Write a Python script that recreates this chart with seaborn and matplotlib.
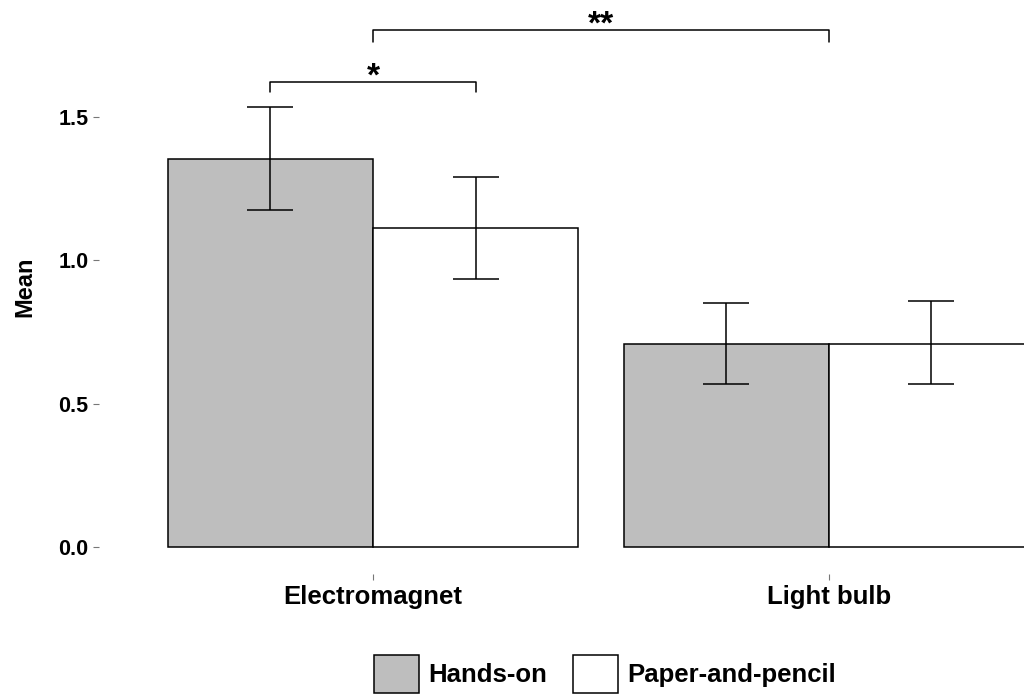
import numpy as np
import pandas as pd
import matplotlib
matplotlib.use("Agg")
from matplotlib import pyplot as plt
from matplotlib.patches import Patch
import seaborn as sns

# values
categories = ["Electromagnet", "Light bulb"]
groups = ["Hands-on", "Paper-and-pencil"]
mean_hands = [1.355, 0.708]
mean_paper = [1.113, 0.708]
low_hands = [1.175, 0.569]
low_paper = [0.935, 0.569]
high_hands = [1.535, 0.851]
high_paper = [1.290, 0.857]
group_colors = ["#BEBEBE", "#FFFFFF"]

sns.set_style("white")
plt.rcParams["font.family"] = ["Liberation Sans", "DejaVu Sans"]
plt.rcParams["font.weight"] = "bold"
plt.rcParams["text.color"] = "black"

df = pd.DataFrame({
    "Condition": categories * 2,
    "Group": [groups[0]] * 2 + [groups[1]] * 2,
    "Mean": mean_hands + mean_paper,
})
lows = [low_hands, low_paper]
highs = [high_hands, high_paper]

fig = plt.figure(figsize=(10.24, 6.95), dpi=100)
ax = fig.add_axes([0.0971, 0.1741, 0.9029, 0.8259])

sns.barplot(data=df, x="Condition", y="Mean", hue="Group", order=categories,
            hue_order=groups, palette=group_colors, width=0.9, errorbar=None,
            edgecolor="black", linewidth=1.1, legend=False, ax=ax)

# error bars at the bar centres (take a copy: errorbar adds containers)
bar_containers = list(ax.containers)
centres = {}
for h, cont in enumerate(bar_containers):
    for c, bar in enumerate(cont):
        xc = bar.get_x() + bar.get_width() / 2
        centres[(c, h)] = xc
        m = bar.get_height()
        ax.errorbar(xc, m, yerr=[[m - lows[h][c]], [highs[h][c] - m]], fmt="none",
                    ecolor="black", elinewidth=1.1, capsize=16.5, capthick=1.1, zorder=5)

# significance brackets
cat_pos = ax.get_xticks()
brackets = [
    (centres[(0, 0)], centres[(0, 1)], 1.622, 0.035, "*"),
    (cat_pos[0], cat_pos[1], 1.803, 0.042, "**"),
]
for x1, x2, y, drop, label in brackets:
    ax.plot([x1, x1, x2, x2], [y - drop, y, y, y - drop], color="black", lw=1.1,
            clip_on=False)
    # asterisks sit high in the glyph box, so anchor the text below the line
    ax.text((x1 + x2) / 2, y - 0.036, label, ha="center", va="bottom", fontsize=24,
            fontweight="bold", color="black")

ax.set_xlim(-0.6, 1.428)
ax.set_ylim(-0.094, 1.908)
ax.set_yticks([0, 0.5, 1.0, 1.5])
ax.set_yticklabels(["0.0", "0.5", "1.0", "1.5"])
for s in ax.spines.values():
    s.set_visible(False)
ax.tick_params(axis="both", left=True, bottom=True, length=4, width=0.8,
               color="#777777", labelsize=15.5, labelcolor="black", pad=4)
ax.tick_params(axis="x", labelsize=18.5, pad=4)
for lab in ax.get_xticklabels() + ax.get_yticklabels():
    lab.set_fontweight("bold")
ax.set_xlabel("")
ax.set_ylabel("Mean", fontsize=17, fontweight="bold", labelpad=16, color="black")

handles = [Patch(facecolor=col, edgecolor="black", linewidth=1.1) for col in group_colors]
fig.legend(handles, groups, loc="upper center", bbox_to_anchor=(605 / 1024, 0.0763),
           ncol=2, frameon=False, handlelength=1.75, handleheight=1.9,
           handletextpad=0.35, columnspacing=1.0, borderpad=0,
           prop={"weight": "bold", "size": 18.5})

fig.savefig("out.png", dpi=100)
